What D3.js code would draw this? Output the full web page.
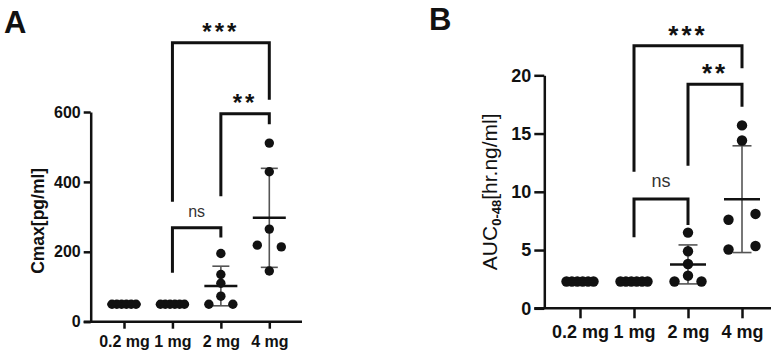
<!DOCTYPE html>
<html>
<head>
<meta charset="utf-8">
<script src="https://cdn.jsdelivr.net/npm/d3@7"></script>
<style>
  body { margin: 0; background: #fff; }
  svg { display: block; font-family: Arial, "Liberation Sans", sans-serif; }
</style>
</head>
<body>
<div id="chart"></div>
<script>
// doses on the x axis (same for both panels)
const doses = ["0.2 mg", "1 mg", "2 mg", "4 mg"];

// panel A - Cmax [pg/ml], one value per subject
const cmax02 = [50, 50, 50, 50, 50, 50];
const cmax1 = [50, 50, 50, 50, 50, 50];
const cmax2 = [195, 135, 110, 73, 50, 50];
const cmax4 = [511, 429, 265, 219, 214, 145];
const cmaxTicks = [0, 200, 400, 600];

// panel B - AUC 0-48 [hr.ng/ml]
const auc02 = [2.3, 2.3, 2.3, 2.3, 2.3, 2.3];
const auc1 = [2.3, 2.3, 2.3, 2.3, 2.3, 2.3];
const auc2 = [6.5, 4.9, 3.8, 2.8, 2.3, 2.3];
const auc4 = [15.7, 14.4, 7.6, 8.1, 5.05, 5.35];
const aucTicks = [0, 5, 10, 15, 20];

// significance labels (1mg vs 4mg, 2mg vs 4mg, 1mg vs 2mg)
const sigLabels = ["***", "**", "ns"];

const svg = d3.select("#chart").append("svg")
  .attr("width", 782)
  .attr("height", 356);

// spread out dots that sit on (nearly) the same height, GraphPad style
function swarm(values, y, w) {
  const order = values.map((v, i) => i).sort((a, b) => values[b] - values[a]);
  const groups = [];
  order.forEach(i => {
    const g = groups[groups.length - 1];
    if (g && Math.abs(y(values[g[g.length - 1]]) - y(values[i])) < 8) g.push(i);
    else groups.push([i]);
  });
  const off = new Array(values.length).fill(0);
  groups.forEach(g => {
    const n = g.length;
    if (n < 2) return;
    const slots = d3.range(n).map(k => -w + k * 2 * w / (n - 1))
      .sort((a, b) => Math.abs(a) - Math.abs(b) || a - b);
    g.sort((a, b) => a - b).forEach((i, k) => off[i] = slots[k]);
  });
  return off;
}

function drawPanel(p) {
  const g = svg.append("g");
  const x = d3.scalePoint().domain(doses).range(p.xRange);
  const y = d3.scaleLinear().domain([0, p.yTicks[p.yTicks.length - 1]]).range(p.yRange);

  // y axis
  const ya = g.append("g")
    .attr("transform", `translate(${p.axisX},0)`)
    .call(d3.axisLeft(y).tickValues(p.yTicks).tickSize(p.tick).tickSizeOuter(0).tickPadding(p.yPad));
  ya.select(".domain").attr("stroke", "#111").attr("stroke-width", 2.5);
  ya.selectAll(".tick line").attr("stroke", "#111").attr("stroke-width", 2.5);
  ya.selectAll(".tick text")
    .attr("fill", "#111")
    .style("font-size", p.fs + "px")
    .style("font-weight", "bold")
    .style("font-family", "Arial, 'Liberation Sans', sans-serif");

  // x axis line (starts at the end of the y zero tick)
  g.append("line")
    .attr("x1", p.axisX - p.tick)
    .attr("x2", p.axisRight)
    .attr("y1", y(0))
    .attr("y2", y(0))
    .attr("stroke", "#111")
    .attr("stroke-width", 2.5);

  const xa = g.append("g")
    .attr("transform", `translate(0,${y(0)})`)
    .call(d3.axisBottom(x).tickSize(p.tick).tickPadding(p.xPad));
  xa.select(".domain").remove();
  xa.selectAll(".tick line").attr("stroke", "#111").attr("stroke-width", 2.5);
  xa.selectAll(".tick text")
    .attr("fill", "#111")
    .style("font-size", p.fs + "px")
    .style("font-weight", "bold")
    .style("font-family", "Arial, 'Liberation Sans', sans-serif");

  // groups: sd bar, dots, mean line
  p.series.forEach((vals, k) => {
    const cx = x(doses[k]);
    const m = d3.mean(vals);
    const sd = d3.deviation(vals);
    const sdG = g.append("g").attr("stroke", "#555").attr("stroke-width", 1.6);
    sdG.append("line").attr("x1", cx).attr("x2", cx).attr("y1", y(m - sd)).attr("y2", y(m + sd));
    [m - sd, m + sd].forEach(v => {
      sdG.append("line").attr("x1", cx - p.cap).attr("x2", cx + p.cap).attr("y1", y(v)).attr("y2", y(v));
    });

    const off = swarm(vals, y, p.spread);
    g.selectAll(null)
      .data(vals)
      .enter()
      .append("circle")
      .attr("cx", (d, i) => cx + off[i])
      .attr("cy", d => y(d))
      .attr("r", p.r)
      .attr("fill", "#111");

    g.append("line")
      .attr("x1", cx - p.meanW).attr("x2", cx + p.meanW)
      .attr("y1", y(m)).attr("y2", y(m))
      .attr("stroke", "#111")
      .attr("stroke-width", 2.5);
  });

  // comparison brackets
  p.brackets.forEach((b, i) => {
    const x1 = x(doses[b.a]);
    const x2 = x(doses[b.b]);
    g.append("path")
      .attr("d", `M${x1},${y(b.l)}V${y(b.top)}H${x2}V${y(b.r)}`)
      .attr("fill", "none")
      .attr("stroke", "#111")
      .attr("stroke-width", 3);
    const label = sigLabels[i];
    const isNs = label === "ns";
    g.append("text")
      .attr("x", (x1 + x2) / 2)
      .attr("y", y(b.top) - (isNs ? p.nsGap : p.starGap))
      .attr("text-anchor", "middle")
      .attr("fill", isNs ? "#333" : "#111")
      .style("font-size", (isNs ? p.nsSize : p.starSize) + "px")
      .style("font-weight", isNs ? "normal" : "bold")
      .style("letter-spacing", isNs ? "0px" : "3px")
      .text(label);
  });

  // panel letter
  g.append("text")
    .attr("x", p.letterX)
    .attr("y", p.letterY)
    .style("font-size", "31px")
    .style("font-weight", "bold")
    .attr("fill", "#111")
    .text(p.letter);

  return { g, y };
}

// panel A
const A = drawPanel({
  letter: "A", letterX: 4, letterY: 33,
  series: [cmax02, cmax1, cmax2, cmax4],
  yTicks: cmaxTicks,
  xRange: [124, 269.3], yRange: [321.7, 112],
  axisX: 90.7, axisRight: 302, tick: 7, yPad: 3, xPad: 7,
  fs: 16, r: 4.7, spread: 12, cap: 8.5, meanW: 16.5,
  starSize: 24, starGap: 3, nsSize: 16, nsGap: 11,
  brackets: [
    { a: 1, b: 3, top: 798, l: 343, r: 635 },
    { a: 2, b: 3, top: 595, l: 359, r: 565 },
    { a: 1, b: 2, top: 269, l: 140, r: 241 }
  ]
});

A.g.append("text")
  .attr("transform", `translate(44,${(A.y(0) + A.y(600)) / 2 + 4}) rotate(-90)`)
  .attr("text-anchor", "middle")
  .attr("fill", "#111")
  .style("font-size", "17.5px")
  .style("font-weight", "bold")
  .text("Cmax[pg/ml]");

// panel B
const B = drawPanel({
  letter: "B", letterX: 429, letterY: 30,
  series: [auc02, auc1, auc2, auc4],
  yTicks: aucTicks,
  xRange: [580, 742], yRange: [308.3, 75.3],
  axisX: 544.3, axisRight: 771, tick: 10, yPad: 3, xPad: 7,
  fs: 18, r: 5.2, spread: 13.5, cap: 9.5, meanW: 18,
  starSize: 26, starGap: 2, nsSize: 18, nsGap: 12,
  brackets: [
    { a: 1, b: 3, top: 22.54, l: 11.73, r: 20.6 },
    { a: 2, b: 3, top: 19.23, l: 12.24, r: 17.3 },
    { a: 1, b: 2, top: 9.38, l: 6.09, r: 7.15 }
  ]
});

const bl = B.g.append("text")
  .attr("transform", `translate(497,${(B.y(0) + B.y(20)) / 2}) rotate(-90)`)
  .attr("text-anchor", "middle")
  .attr("fill", "#111")
  .style("font-size", "21px");
bl.append("tspan").text("AUC");
bl.append("tspan").attr("dy", 4).style("font-size", "13px").style("font-weight", "bold").text("0-48");
bl.append("tspan").attr("dy", -4).text("[hr.ng/ml]");
</script>
</body>
</html>
